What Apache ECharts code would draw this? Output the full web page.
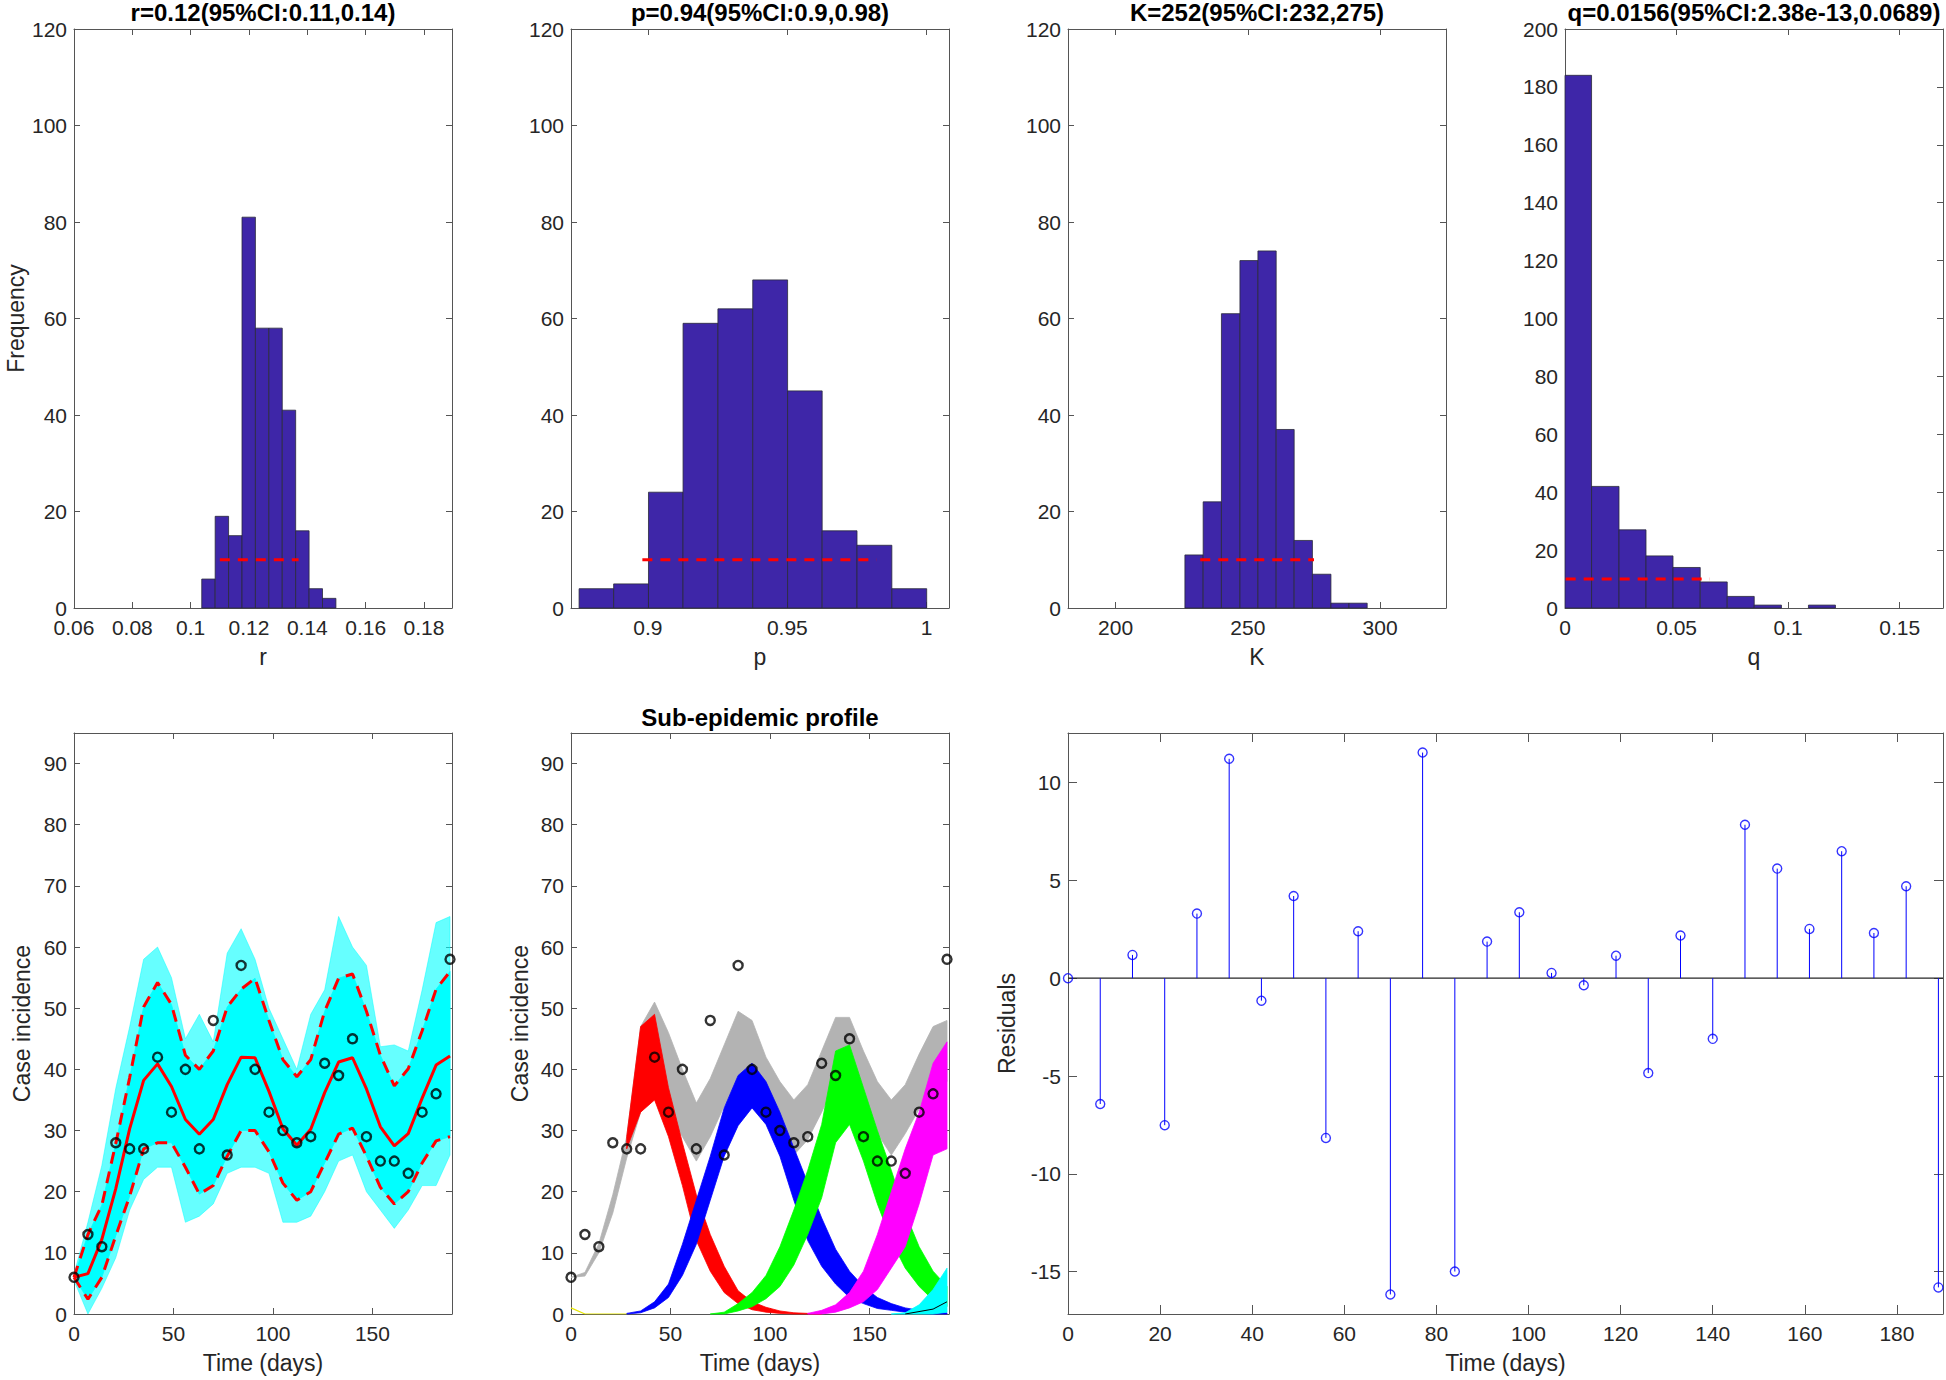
<!DOCTYPE html>
<html><head><meta charset="utf-8">
<script src="https://cdn.jsdelivr.net/npm/echarts@6/dist/echarts.min.js"></script>
<style>html,body{margin:0;padding:0;background:#fff}#c{width:1946px;height:1380px}</style>
</head><body><div id="c"></div>
<script>
// ---------------- DATA ----------------
// Histograms (bin edges + counts), CI marker ranges
const rEdges = [0.1038,0.1084,0.1130,0.1176,0.1222,0.1268,0.1314,0.1360,0.1406,0.1452,0.1498];
const rCounts = [6,19,15,81,58,58,41,16,4,2];
const rCI = [0.110, 0.137];
const pEdges = [0.8753,0.8877,0.9002,0.9126,0.9251,0.9376,0.9501,0.9625,0.9750,0.9875,1.0000];
const pCounts = [4,5,24,59,62,68,45,16,13,4];
const pCI = [0.898, 0.982];
const kEdges = [226.2,233.1,240.0,247.0,253.8,260.7,267.5,274.4,281.4,288.2,295.1];
const kCounts = [11,22,61,72,74,37,14,7,1,1];
const kCI = [232, 275];
const qEdges = [0,0.0119,0.0242,0.0363,0.0484,0.0606,0.0727,0.0848,0.0970,0.1091,0.1212];
const qCounts = [184,42,27,18,14,9,4,1,0,1];
const qCI = [0.0003, 0.0649];
const ciMarkLevel = [10, 10];

const histTitles = ['r=0.12(95%CI:0.11,0.14)','p=0.94(95%CI:0.9,0.98)','K=252(95%CI:232,275)','q=0.0156(95%CI:2.38e-13,0.0689)'];

// Tick labels
const rTicks = [0.06,0.08,0.1,0.12,0.14,0.16,0.18];
const pTicks = [0.9,0.95,1];
const kTicks = [200,250,300];
const qTicks = [0,0.05,0.1,0.15];
const freqTicks = [0,20,40,60,80,100,120];
const qFreqTicks = [0,20,40,60,80,100,120,140,160,180,200];
const dayTicks = [0,50,100,150];
const caseTicks = [0,10,20,30,40,50,60,70,80,90];
const resDayTicks = [0,20,40,60,80,100,120,140,160,180];
const resTicks = [-15,-10,-5,0,5,10];

// Time series (weekly)
const days = [0,7,14,21,28,35,42,49,56,63,70,77,84,91,98,105,112,119,126,133,140,147,154,161,168,175,182,189];
const observed = [6,13,11,28,27,27,42,33,40,27,48,26,57,40,33,30,28,29,41,39,45,29,25,25,23,33,36,58];
const fitMean = [6,6.6,12.2,20.5,30.3,38.2,40.9,37.2,31.8,29.4,31.8,37.5,42.0,41.9,36.4,30.3,27.6,30.2,36.2,41.2,41.9,36.8,30.6,27.5,29.5,35.3,40.7,42.2];
const piUpper = [6,13,17.8,27.9,38.7,50.2,54.2,50.6,42.3,40,43,50.2,53.1,54.9,48,41.6,38.8,41.6,49.5,54.9,55.6,49.5,42.3,37.3,40.1,46.3,53.1,56];
const piLower = [6,2.4,6,12.8,19.3,27,28,28,24,19.6,21,25.8,30,30,26.5,21.4,18.6,20,24.7,29.4,30.4,25.8,20.7,18,20,24.7,28.3,29];
const ensMax = [6.5,15,24.3,36.9,47,58,60,55,45,49,44.5,59,63,58,50,45,40,49,53,65,60,57,43.7,44,43,53,64,65];
const ensMin = [5.5,0,4.2,9.2,17,22,24,24,15,16,18,23,24,24,23,15,15,16,20,25,26,20,17,14,17,21,21,26];
const residuals = [0,-6.43,1.19,-7.51,3.30,11.21,-1.15,4.20,-8.16,2.40,-16.16,11.53,-14.99,1.87,3.37,0.27,-0.36,1.15,-4.85,2.18,-3.10,7.84,5.60,2.52,6.49,2.31,4.70,-15.80];

// Sub-epidemic ensembles (envelopes)
const totalLo = [6,6.2,10,16.5,25.5,33,36,33,29,25,29,34,38.5,38,33,29.5,26,28.5,33,38,38.5,33.5,29.5,26,29.5,33.5,37,38];
const totalHi = [6,6.8,11.5,19.5,29,47,51,46,40,34.5,38.5,44,49.5,48,42,38,35,37.5,43,48.5,48.5,43,38,35,37.5,42.5,47,48];
const sub1Days = [28,35,42,49,56,63,70,77,84,91,98,105,112,119,126];
const sub1Lo = [27,33,35,29,21,12,7,3.5,1.7,0.7,0.3,0.1,0,0,0];
const sub1Hi = [29,47,49,37,28,19.5,13,7.8,3.8,2,1.1,0.5,0.2,0.1,0];
const sub2Days = [28,35,42,49,56,63,70,77,84,91,98,105,112,119,126,133,140,147,154,161,168,175,182,189];
const sub2Lo = [0,0.2,1,2.7,6.3,11.4,18.6,25.8,30.8,33.7,31,25.8,18.6,12,7.8,4.9,2.7,1.7,0.9,0.6,0.3,0.1,0,0];
const sub2Hi = [0.1,0.5,2,4.9,11.4,18.6,25.8,33.7,39,41,38,33,27.2,21.4,15.7,10.6,7,4.5,2.7,1.7,1,0.6,0.3,0.2];
const sub3Days = [70,77,84,91,98,105,112,119,126,133,140,147,154,161,168,175,182,189];
const sub3Lo = [0,0,0.5,1.2,2.5,4.5,8,13,19,28,31,25,18,12,7.5,4.5,2.3,1.2];
const sub3Hi = [0,0.3,1.7,3.5,6.3,11,17,23.5,31,43,44,37,30,23.5,16.5,11,7,4.5];
const sub4Days = [119,126,133,140,147,154,161,168,175,182,189];
const sub4Lo = [0,0,0.3,1,2,4,7.5,11,18,26,27];
const sub4Hi = [0.1,0.6,1.5,3.5,7,13,20,27,33,41,44.5];
const sub5Days = [161,168,175,182,189];
const sub5Lo = [0,0,0,0,0.3];
const sub5Hi = [0,0.2,1.5,4,7.5];
const sub6 = [[168,0],[182,0.8],[189,2]];
const sub0 = [[0,1],[7,0],[28,0]];

// ---------------- LAYOUT / STYLE ----------------
const FF = "'Liberation Sans', Arial, Helvetica, sans-serif";
const AX = '#555555', TXT = '#262626';
const grids = [
  {left:74, top:29, width:378, height:579},
  {left:571, top:29, width:378, height:579},
  {left:1068, top:29, width:378, height:579},
  {left:1565, top:29, width:378, height:579},
  {left:74, top:733, width:378, height:581},
  {left:571, top:733, width:378, height:581},
  {left:1068, top:733, width:875, height:581}
].map(g => Object.assign({outerBoundsMode:'none', containLabel:false}, g));

const fmt = v => String(Math.round(v * 1e6) / 1e6);
const xAxes = [], yAxes = [];
function addAxes(gi, o) {
  const line = {show:true, onZero:false, lineStyle:{color:AX, width:1}};
  const tick = vals => ({show:true, inside:true, length:o.tick, customValues:vals, lineStyle:{color:AX, width:1}});
  const lab = (vals, m) => ({show:true, customValues:vals, formatter:fmt, margin:m, fontSize:21, fontFamily:FF, color:TXT});
  const nts = {fontSize:23, fontFamily:FF, color:TXT};
  xAxes.push({type:'value', gridIndex:gi, position:'bottom', min:o.xmin, max:o.xmax, axisLine:line, axisTick:tick(o.xt), axisLabel:lab(o.xt, 9), splitLine:{show:false}, name:o.xname, nameLocation:'middle', nameGap:o.xgap, nameTextStyle:nts});
  xAxes.push({type:'value', gridIndex:gi, position:'top', min:o.xmin, max:o.xmax, axisLine:line, axisTick:tick(o.xt), axisLabel:{show:false}, splitLine:{show:false}});
  yAxes.push({type:'value', gridIndex:gi, position:'left', min:o.ymin, max:o.ymax, axisLine:line, axisTick:tick(o.yt), axisLabel:lab(o.yt, 7), splitLine:{show:false}, name:o.yname || '', nameLocation:'middle', nameGap:o.ygap || 40, nameRotate:90, nameTextStyle:nts});
  yAxes.push({type:'value', gridIndex:gi, position:'right', min:o.ymin, max:o.ymax, axisLine:line, axisTick:tick(o.yt), axisLabel:{show:false}, splitLine:{show:false}});
}
addAxes(0, {xmin:0.06, xmax:0.1896, xt:rTicks, ymin:0, ymax:120, yt:freqTicks, xname:'r', xgap:37, yname:'Frequency', ygap:47, tick:6});
addAxes(1, {xmin:0.8724, xmax:1.008, xt:pTicks, ymin:0, ymax:120, yt:freqTicks, xname:'p', xgap:37, tick:6});
addAxes(2, {xmin:182, xmax:324.9, xt:kTicks, ymin:0, ymax:120, yt:freqTicks, xname:'K', xgap:37, tick:6});
addAxes(3, {xmin:0, xmax:0.1694, xt:qTicks, ymin:0, ymax:200, yt:qFreqTicks, xname:'q', xgap:37, tick:6});
addAxes(4, {xmin:0, xmax:190, xt:dayTicks, ymin:0, ymax:95, yt:caseTicks, xname:'Time (days)', xgap:37, yname:'Case incidence', ygap:41, tick:6});
addAxes(5, {xmin:0, xmax:190, xt:dayTicks, ymin:0, ymax:95, yt:caseTicks, xname:'Time (days)', xgap:37, yname:'Case incidence', ygap:40, tick:6});
addAxes(6, {xmin:0, xmax:190, xt:resDayTicks, ymin:-17.16, ymax:12.53, yt:resTicks, xname:'Time (days)', xgap:37, yname:'Residuals', ygap:50, tick:9});

const series = [];
const ax = gi => ({xAxisIndex:2*gi, yAxisIndex:2*gi});

function histSeries(gi, edges, counts, ci) {
  const data = [];
  for (let i = 0; i < counts.length; i++) if (counts[i] > 0) data.push([edges[i], edges[i+1], counts[i]]);
  series.push(Object.assign({type:'custom', z:2, silent:true, encode:{x:[0,1], y:2}, data,
    renderItem(params, api) {
      const a = api.coord([api.value(0), api.value(2)]);
      const b = api.coord([api.value(1), 0]);
      return {type:'rect', shape:{x:a[0], y:a[1], width:b[0]-a[0], height:b[1]-a[1]},
        style:{fill:'#3e26a8', stroke:'#2a2a3a', lineWidth:0.8}};
    }}, ax(gi)));
  series.push(Object.assign({type:'line', z:4, silent:true, symbol:'none', data:[[ci[0], ciMarkLevel[0]], [ci[1], ciMarkLevel[1]]],
    lineStyle:{color:'#ff0000', width:3, type:[10,8]}}, ax(gi)));
}
histSeries(0, rEdges, rCounts, rCI);
histSeries(1, pEdges, pCounts, pCI);
histSeries(2, kEdges, kCounts, kCI);
histSeries(3, qEdges, qCounts, qCI);

function band(gi, xs, lo, hi, color, opacity, z) {
  series.push(Object.assign({type:'custom', z, silent:true, data:[[xs[0], lo[0]]],
    renderItem(params, api) {
      const pts = [];
      for (let i = 0; i < xs.length; i++) pts.push(api.coord([xs[i], hi[i]]));
      for (let i = xs.length - 1; i >= 0; i--) pts.push(api.coord([xs[i], lo[i]]));
      return {type:'polygon', shape:{points:pts}, style:{fill:color, opacity, stroke:color, lineWidth:0.8}};
    }}, ax(gi)));
}
const zip = (xs, ys) => xs.map((x, i) => [x, ys[i]]);
function line(gi, data, color, width, type, z) {
  series.push(Object.assign({type:'line', z, silent:true, symbol:'none', data, lineStyle:{color, width, type}}, ax(gi)));
}
function obs(gi) {
  series.push(Object.assign({type:'scatter', z:10, silent:true, data:zip(days, observed), symbol:'circle', symbolSize:9,
    itemStyle:{color:'rgba(255,255,255,0)', borderColor:'#000', borderWidth:2.4}}, ax(gi)));
}

// Panel 5: fit ensemble
band(4, days, ensMin, ensMax, '#00ffff', 0.6, 2);
band(4, days, piLower, piUpper, '#00ffff', 1, 3);
line(4, zip(days, piUpper), '#ff0000', 3, [12,8], 5);
line(4, zip(days, piLower), '#ff0000', 3, [12,8], 5);
line(4, zip(days, fitMean), '#ff0000', 3, 'solid', 6);
obs(4);

// Panel 6: sub-epidemic profile
band(5, days, totalLo, totalHi, '#b3b3b3', 1, 2);
band(5, sub1Days, sub1Lo, sub1Hi, '#ff0000', 1, 3);
band(5, sub2Days, sub2Lo, sub2Hi, '#0000ff', 1, 4);
band(5, sub3Days, sub3Lo, sub3Hi, '#00ff00', 1, 5);
band(5, sub4Days, sub4Lo, sub4Hi, '#ff00ff', 1, 6);
band(5, sub5Days, sub5Lo, sub5Hi, '#00ffff', 1, 7);
line(5, sub6, '#000000', 1, 'solid', 8);
line(5, sub0, '#e6e600', 1.2, 'solid', 8);
obs(5);

// Panel 7: residuals stem plot
line(6, [[0,0],[190,0]], '#262626', 1.3, 'solid', 3);
series.push(Object.assign({type:'custom', z:4, silent:true, data:zip(days, residuals),
  renderItem(params, api) {
    const a = api.coord([api.value(0), 0]);
    const b = api.coord([api.value(0), api.value(1)]);
    return {type:'line', shape:{x1:a[0], y1:a[1], x2:b[0], y2:b[1]}, style:{stroke:'#0000ff', lineWidth:1}};
  }}, ax(6)));
series.push(Object.assign({type:'scatter', z:6, silent:true, data:zip(days, residuals), symbol:'circle', symbolSize:9,
  itemStyle:{color:'rgba(255,255,255,0)', borderColor:'#0000ff', borderWidth:1.4}}, ax(6)));

// Titles
const titleCenters = [[263,12],[760,12],[1257,12],[1754,12]];
const graphics = histTitles.map((t, i) => ({type:'text', x:titleCenters[i][0], y:titleCenters[i][1], silent:true,
  style:{text:t, align:'center', verticalAlign:'middle', fontSize:24, fontWeight:'bold', fontFamily:FF, fill:'#000'}}));
graphics.push({type:'text', x:760, y:717, silent:true,
  style:{text:'Sub-epidemic profile', align:'center', verticalAlign:'middle', fontSize:24, fontWeight:'bold', fontFamily:FF, fill:'#000'}});

const chart = echarts.init(document.getElementById('c'), null, {renderer:'svg', width:1946, height:1380});
chart.setOption({
  animation:false,
  backgroundColor:'#ffffff',
  grid:grids,
  xAxis:xAxes,
  yAxis:yAxes,
  series,
  graphic:graphics
});
</script></body></html>
